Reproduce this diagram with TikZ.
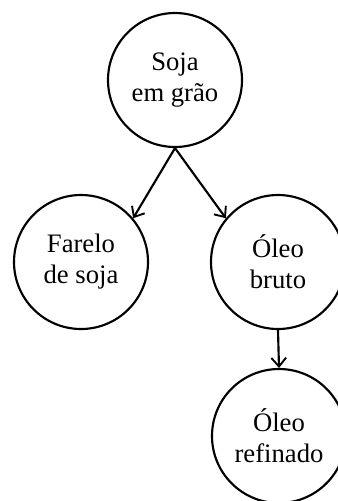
\documentclass[tikz,border=0pt]{standalone}
\usepackage{fontspec}
\setmainfont{Liberation Serif}
\usetikzlibrary{arrows.meta}
\begin{document}
\begin{tikzpicture}[x=0.75pt,y=-0.75pt,
  stage/.style={draw=black,line width=1.6pt,circle,minimum size=100.5pt,inner sep=0pt,
    align=center,font=\fontsize{20}{23.2}\selectfont},
  flow/.style={line width=1.6pt,-{Straight Barb[length=6.5pt,width=11pt,line width=1.4pt]}}]
\useasboundingbox (0,0) rectangle (338,501);
\node[stage] (soja) at (175,80) {Soja\\em grão};
\node[stage] (farelo) at (81,262) {Farelo\\de soja};
\node[stage] (bruto) at (278,262) {Óleo\\bruto};
\node[stage] (refinado) at (279,436) {Óleo\\refinado};
\draw[flow] (soja.south) -- (farelo.40);
\draw[flow] (soja.south) -- (bruto.140);
\draw[flow] (bruto.south) -- (refinado.north);
\end{tikzpicture}
\end{document}
